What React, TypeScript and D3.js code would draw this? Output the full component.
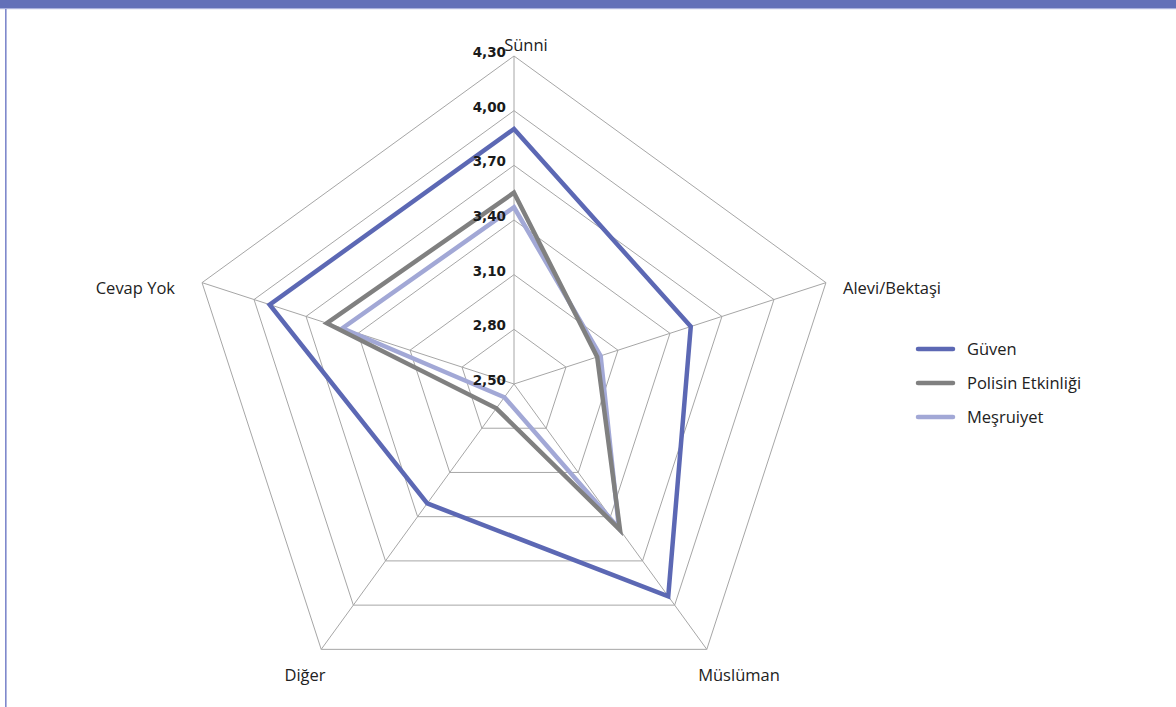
import React from "react";
import * as d3 from "d3";

const categories = ["Sünni", "Alevi/Bektaşi", "Müslüman", "Diğer", "Cevap Yok"];
const seriesNames = ["Güven", "Polisin Etkinliği", "Meşruiyet"];
const guven = [3.9, 3.52, 3.94, 3.31, 3.91];
const etkinlik = [3.55, 2.98, 3.49, 2.665, 3.58];
const mesruiyet = [3.47, 3.0, 3.48, 2.59, 3.49];
const ticks = [2.5, 2.8, 3.1, 3.4, 3.7, 4.0, 4.3];
const tickLabels = ["2,50", "2,80", "3,10", "3,40", "3,70", "4,00", "4,30"];
const colors = ["#5c68b4", "#808080", "#a2a8d6"];

export default function App() {
  const W = 1176, H = 707;
  const cx = 514, cy = 384, R = 328;
  const r = d3.scaleLinear().domain([2.5, 4.3]).range([0, R]);
  const angle = d3.scalePoint<string>().domain(categories).range([0, (2 * Math.PI * 4) / 5]);
  const pt = (cat: string, v: number): [number, number] => {
    const a = angle(cat)!;
    return [cx + r(v) * Math.sin(a), cy - r(v) * Math.cos(a)];
  };
  const line = d3.line<[number, number]>().curve(d3.curveLinearClosed);
  const series = [guven, etkinlik, mesruiyet];
  const labelPos: Record<string, { x: number; y: number; anchor: string }> = {
    "Sünni": { x: 526, y: 51, anchor: "middle" },
    "Alevi/Bektaşi": { x: 843, y: 294, anchor: "start" },
    "Müslüman": { x: 739, y: 681, anchor: "middle" },
    "Diğer": { x: 305, y: 681, anchor: "middle" },
    "Cevap Yok": { x: 175, y: 294, anchor: "end" },
  };
  return (
    <svg width={W} height={H} style={{ position: "absolute", left: 0, top: 0, background: "#fff" }}>
      <rect x={0} y={0} width={W} height={8} fill="#6370b8" />
      <rect x={0} y={8} width={W} height={1.2} fill="#a9b0dc" />
      <rect x={5} y={9} width={1.6} height={H - 9} fill="#7f89cc" />
      <g>
        {ticks.slice(1).map((t) => (
          <path
            key={t}
            d={line(categories.map((c) => pt(c, t)))!}
            fill="none"
            stroke="#a6a6a6"
            strokeWidth={1}
          />
        ))}
        {categories.map((c) => {
          const [x, y] = pt(c, 4.3);
          return <line key={c} x1={cx} y1={cy} x2={x} y2={y} stroke="#a6a6a6" strokeWidth={1} />;
        })}
      </g>
      <g>
        {series.slice().reverse().map((s, i) => {
          const idx = series.length - 1 - i;
          return (
            <path
              key={idx}
              d={line(categories.map((c, j) => pt(c, s[j])))!}
              fill="none"
              stroke={colors[idx]}
              strokeWidth={4.5}
              strokeLinejoin="miter"
            />
          );
        })}
      </g>
      <g fontFamily="'DejaVu Sans', sans-serif" fontWeight="bold" fontSize={13.5} fill="#1a1a1a">
        {ticks.map((t, i) => (
          <text key={t} x={cx - 8} y={cy - r(t) + 1} textAnchor="end">
            {tickLabels[i]}
          </text>
        ))}
      </g>
      <g fontFamily="'Open Sans', sans-serif" fontSize={16.5} fill="#222">
        {categories.map((c) => (
          <text key={c} x={labelPos[c].x} y={labelPos[c].y} textAnchor={labelPos[c].anchor as any}>
            {c}
          </text>
        ))}
      </g>
      <g fontFamily="'Open Sans', sans-serif" fontSize={16.5} fill="#222">
        {seriesNames.map((n, i) => (
          <g key={n} transform={`translate(918, ${349 + i * 34})`}>
            <line x1={0} x2={35} y1={0} y2={0} stroke={colors[i]} strokeWidth={4.5} strokeLinecap="round" />
            <text x={49} y={6}>{n}</text>
          </g>
        ))}
      </g>
    </svg>
  );
}
